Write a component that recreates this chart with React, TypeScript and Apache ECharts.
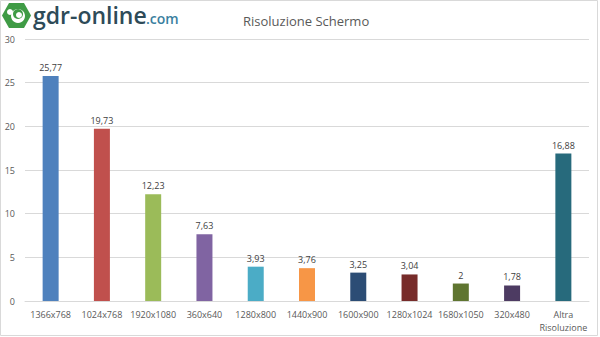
import React, { useEffect, useRef } from "react";
import * as echarts from "echarts";

const categories = [
  "1366x768", "1024x768", "1920x1080", "360x640", "1280x800", "1440x900",
  "1600x900", "1280x1024", "1680x1050", "320x480", "Altra\nRisoluzione",
];
const values = [25.77, 19.73, 12.23, 7.63, 3.93, 3.76, 3.25, 3.04, 2, 1.78, 16.88];
const colors = [
  "#4F81BD", "#C0504D", "#9BBB59", "#8064A2", "#4BACC6", "#F79646",
  "#2C4D75", "#772C2A", "#5F7530", "#4D3B62", "#276A7C",
];
const title = "Risoluzione Schermo";

export default function App() {
  const ref = useRef<HTMLDivElement>(null);
  useEffect(() => {
    if (!ref.current) return;
    const chart = echarts.init(ref.current, undefined, { renderer: "svg" });
    chart.setOption({
      animation: false,
      backgroundColor: "#ffffff",
      title: {
        text: title,
        left: 238,
        top: 9,
        textStyle: { fontFamily: "Open Sans", fontSize: 13, fontWeight: "normal", color: "#595959" },
      },
      grid: { left: 25, right: 11, top: 39, bottom: 36, containLabel: false },
      xAxis: {
        type: "category",
        data: categories,
        axisLine: { lineStyle: { color: "#d9d9d9" } },
        axisTick: { show: false },
        axisLabel: { color: "#595959", fontSize: 9, fontFamily: "Open Sans", margin: 7, interval: 0, lineHeight: 13 },
      },
      yAxis: {
        type: "value",
        min: 0,
        max: 30,
        interval: 5,
        axisLine: { show: false },
        axisTick: { show: false },
        splitLine: { lineStyle: { color: "#d9d9d9" } },
        axisLabel: { color: "#595959", fontSize: 9, fontFamily: "Open Sans", margin: 10 },
      },
      series: [
        {
          type: "bar",
          data: values.map((v, i) => ({ value: v, itemStyle: { color: colors[i] } })),
          barWidth: 16,
          label: {
            show: true,
            position: "top",
            distance: 4,
            fontSize: 9,
            fontFamily: "Open Sans",
            color: "#404040",
            formatter: (p: any) => String(p.value).replace(".", ","),
          },
        },
      ],
      graphic: [
        {
          type: "rect",
          shape: { x: 0.5, y: 0.5, width: 597, height: 335 },
          style: { fill: "none", stroke: "#d9d9d9", lineWidth: 1 },
          silent: true,
        },
        {
          type: "polygon",
          shape: {
            points: [[9, 3], [24, 3], [31, 15.5], [24, 28], [9, 28], [2, 15.5]],
          },
          style: { fill: "#3f9b45" },
        },
        { type: "circle", shape: { cx: 18, cy: 16, r: 7 }, style: { fill: "#ffffff" } },
        { type: "circle", shape: { cx: 18, cy: 14, r: 5 }, style: { fill: "#3f9b45" } },
        { type: "circle", shape: { cx: 10, cy: 12, r: 3 }, style: { fill: "#ffffff" } },
        { type: "circle", shape: { cx: 19, cy: 15, r: 3 }, style: { fill: "#ffffff" } },
        {
          type: "text",
          left: 33,
          top: 3,
          style: {
            text: "gdr-online",
            fontFamily: "Open Sans",
            fontSize: 23,
            fontWeight: 600,
            fill: "#2e4b58",
          },
        },
        {
          type: "text",
          left: 146,
          top: 11,
          style: {
            text: ".com",
            fontFamily: "Open Sans",
            fontSize: 14,
            fontWeight: 600,
            fill: "#3a7fa0",
          },
        },
      ],
    });
    return () => chart.dispose();
  }, []);
  return (
    <div
      ref={ref}
      style={{ position: "absolute", left: 0, top: 0, width: 600, height: 337 }}
    />
  );
}
